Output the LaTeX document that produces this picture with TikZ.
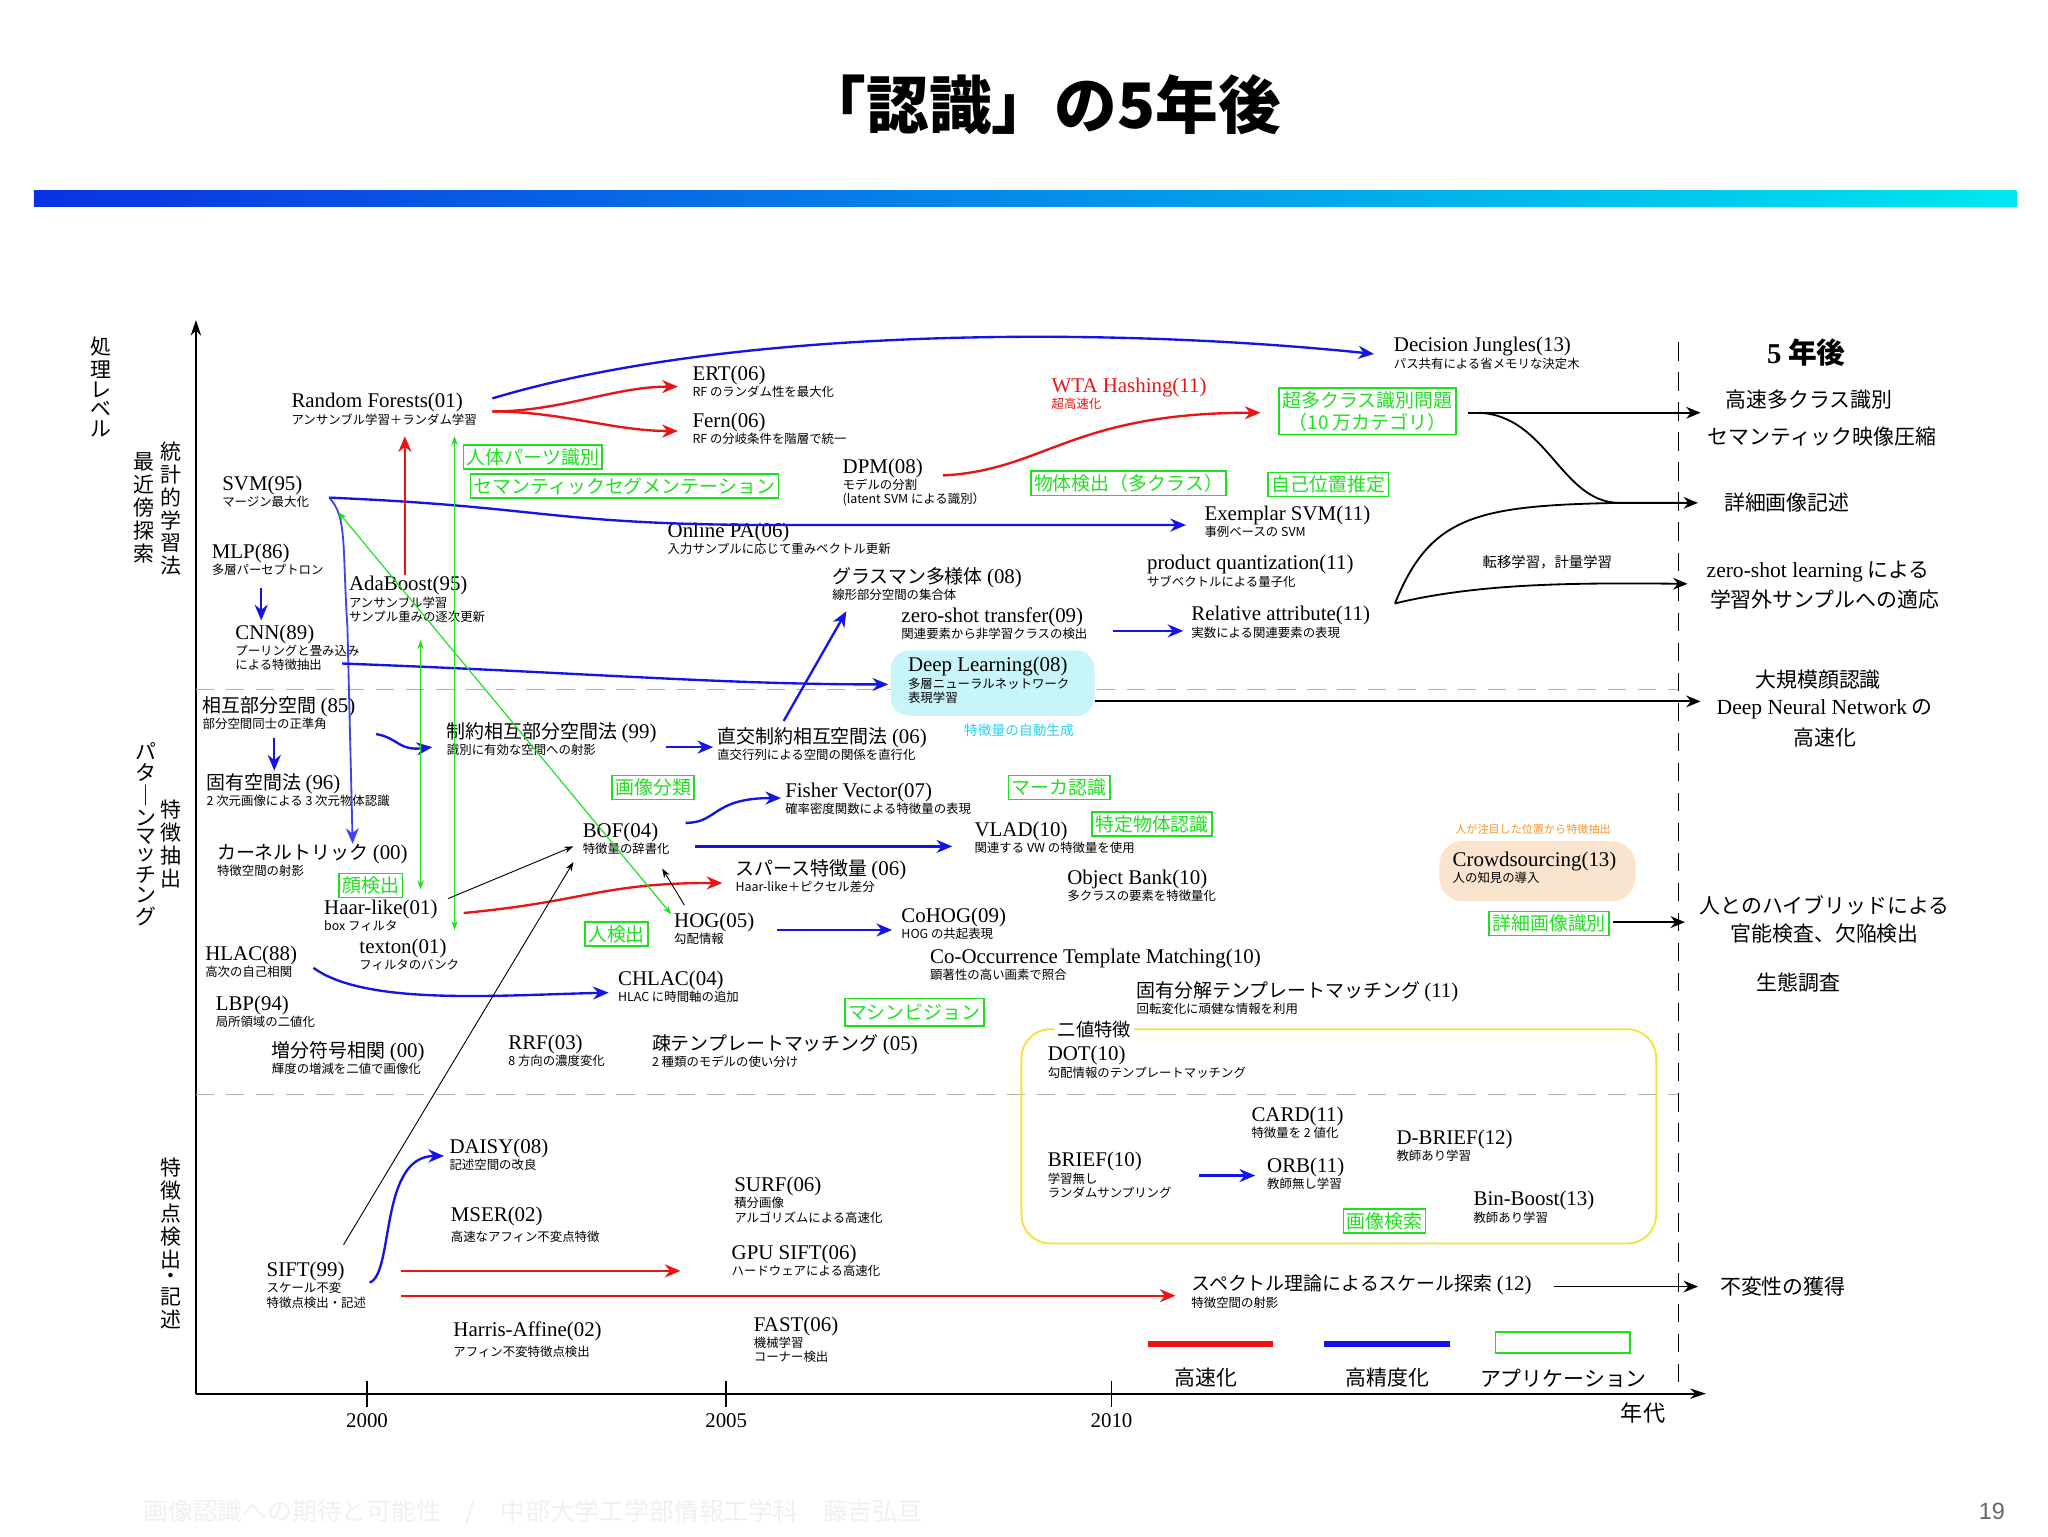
\documentclass[tikz,border=0pt]{standalone}
\usepackage{fontspec}
\setmainfont{Liberation Serif}
\newfontfamily\jp{Noto Sans CJK JP}
\newfontfamily\lsans{Liberation Sans}
\usetikzlibrary{arrows.meta}
\definecolor{bl}{RGB}{20,20,230}
\definecolor{rd}{RGB}{235,20,20}
\definecolor{gr}{RGB}{30,225,30}
\definecolor{dg}{RGB}{175,175,175}
\definecolor{cy}{RGB}{200,245,250}
\definecolor{pe}{RGB}{250,228,205}
\definecolor{ye}{RGB}{245,225,60}
\newcommand\mf{\rmfamily\fontsize{16}{18}\selectfont}
\newcommand\mj{\jp\fontsize{14.5}{18}\selectfont}
\tikzset{
 itm/.style={anchor=north west,inner sep=0pt,align=left,font=\jp\fontsize{9.5}{11}\selectfont},
 gbox/.style={draw=gr,line width=1.2pt,text=gr,inner sep=2.5pt,font=\jp\fontsize{14.5}{16.5}\selectfont,align=center},
 rt/.style={font=\jp\fontsize{16}{18}\selectfont},
 vt/.style={anchor=north,inner sep=0pt,font=\jp\fontsize{16}{17}\selectfont},
 ba/.style={bl,line width=1.8pt,-{Stealth[length=12pt,width=10pt]}},
 ra/.style={rd,line width=1.8pt,-{Stealth[length=12pt,width=10pt]}},
 ka/.style={black,line width=1.4pt,-{Stealth[length=11pt,width=9pt]}},
 ga/.style={gr,line width=0.9pt,{Stealth[length=7pt,width=5pt]}-{Stealth[length=7pt,width=5pt]}},
 ta/.style={black,line width=0.7pt,-{Stealth[length=7pt,width=5pt]}},
}
\begin{document}
\begin{tikzpicture}[x=1pt,y=-1pt]
\useasboundingbox (0,0) rectangle (1568,1176);
\fill[white] (0,0) rectangle (1568,1176);
% title
\node[font=\jp\bfseries\fontsize{48}{52}\selectfont] (title) at (798,80) {「認識」の5年後};
\shade[left color={rgb,255:red,10;green,50;blue,225}, right color={rgb,255:red,0;green,230;blue,240}] (26,146) rectangle (1544,158);
% axes
\draw[line width=1.6pt,-{Stealth[length=12pt,width=8pt]}] (150,1067) -- (150,245);
\draw[line width=1.6pt,-{Stealth[length=12pt,width=8pt]}] (150,1067) -- (1306,1067);
\foreach \x/\l in {281/2000,556/2005,851/2010}{
 \draw[line width=1.2pt] (\x,1057) -- (\x,1077);
 \node[font=\fontsize{16}{18}\selectfont] at (\x,1088) {\l};}
\node[font=\jp\fontsize{17}{19}\selectfont] (nendai) at (1258,1082) {年代};
\draw[line width=1.2pt,dash pattern=on 14pt off 9pt] (1285,262) -- (1285,1067);
\draw[dg,line width=1.3pt,dash pattern=on 14pt off 9pt] (150,528) -- (1285,528);
\draw[dg,line width=1.3pt,dash pattern=on 14pt off 9pt] (150,838) -- (1285,838);
% vertical labels
\node[vt] (v1) at (77,258) {\shortstack{処\\理\\レ\\ベ\\ル}};
\node[vt] (v2) at (131,338) {\shortstack{統\\計\\的\\学\\習\\法}};
\node[vt] (v3) at (110,346) {\shortstack{最\\近\\傍\\探\\索}};
\node[vt] (v4) at (112,568) {\shortstack{パ\\タ\\｜\\ン\\マ\\ッ\\チ\\ン\\グ}};
\node[vt] (v5) at (131,612) {\shortstack{特\\徴\\抽\\出}};
\node[vt] (v6) at (131,886) {\shortstack{特\\徴\\点\\検\\出\\・\\記\\述}};
% yellow box
\draw[ye,line width=1.4pt,rounded corners=22pt] (782,788) rectangle (1268,952);
\node[fill=white,inner sep=2pt,font=\jp\fontsize{14}{16}\selectfont] (niti) at (838,788) {二値特徴};
% filled boxes
\node[fill=cy,rounded corners=14pt,minimum width=156pt,minimum height=50pt] (dlbox) at (760,523) {};
\node[fill=pe,rounded corners=18pt,minimum width=150pt,minimum height=46pt] (crbox) at (1177,667) {};
% items
\node[itm] (rf) at (223,301) {{\mf Random Forests(01)}\\アンサンブル学習＋ランダム学習};
\node[itm] (ert) at (530,280) {{\mf ERT(06)}\\RF のランダム性を最大化};
\node[itm] (fern) at (530,316) {{\mf Fern(06)}\\RF の分岐条件を階層で統一};
\node[itm] (dj) at (1067,258) {{\mf Decision Jungles(13)}\\パス共有による省メモリな決定木};
\node[itm,text=rd] (wta) at (805,289) {{\mf WTA Hashing(11)}\\超高速化};
\node[itm] (svm) at (170,364) {{\mf SVM(95)}\\マージン最大化};
\node[itm] (dpm) at (645,351) {{\mf DPM(08)}\\モデルの分割\\(latent SVM による識別）};
\node[itm] (esvm) at (922,387) {{\mf Exemplar SVM(11)}\\事例ベースの SVM};
\node[itm] (opa) at (511,400) {{\mf Online PA(06)}\\入力サンプルに応じて重みベクトル更新};
\node[itm] (mlp) at (162,416) {{\mf MLP(86)}\\多層パーセプトロン};
\node[itm] (pq) at (878,425) {{\mf product quantization(11)}\\サブベクトルによる量子化};
\node[anchor=north west,inner sep=0pt,font=\jp\fontsize{11}{13}\selectfont] (tenni) at (1135,425) {転移学習，計量学習};
\node[itm] (ada) at (267,441) {{\mf AdaBoost(95)}\\アンサンブル学習\\サンプル重みの逐次更新};
\node[itm] (gras) at (637,434) {{\mj グラスマン多様体 \mf(08)}\\線形部分空間の集合体};
\node[itm] (zst) at (690,465) {{\mf zero-shot transfer(09)}\\関連要素から非学習クラスの検出};
\node[itm] (ra) at (912,464) {{\mf Relative attribute(11)}\\実数による関連要素の表現};
\node[itm] (cnn) at (180,478) {{\mf CNN(89)}\\プーリングと畳み込み\\による特徴抽出};
\node[itm] (dl) at (695,503) {{\mf Deep Learning(08)}\\多層ニューラルネットワーク\\表現学習};
\node[anchor=north west,inner sep=0pt,text={rgb,255:red,40;green,210;blue,240},font=\jp\fontsize{10.5}{12}\selectfont] (jido) at (738,554) {特徴量の自動生成};
\node[itm] (sogo) at (155,533) {{\mj 相互部分空間 \mf(85)}\\部分空間同士の正準角};
\node[itm] (seiyaku) at (342,553) {{\mj 制約相互部分空間法 \mf(99)}\\識別に有効な空間への射影};
\node[itm] (chokko) at (549,557) {{\mj 直交制約相互空間法 \mf(06)}\\直交行列による空間の関係を直行化};
\node[itm] (koyu) at (158,592) {{\mj 固有空間法 \mf(96)}\\2 次元画像による 3 次元物体認識};
\node[itm] (fv) at (601,599) {{\mf Fisher Vector(07)}\\確率密度関数による特徴量の表現};
\node[itm] (vlad) at (746,629) {{\mf VLAD(10)}\\関連する VW の特徴量を使用};
\node[itm] (bof) at (446,630) {{\mf BOF(04)}\\特徴量の辞書化};
\node[itm] (kt) at (166,646) {{\mj カーネルトリック \mf(00)}\\特徴空間の射影};
\node[itm] (sp) at (563,658) {{\mj スパース特徴量 \mf(06)}\\Haar-like＋ピクセル差分};
\node[itm] (ob) at (817,666) {{\mf Object Bank(10)}\\多クラスの要素を特徴量化};
\node[anchor=north west,inner sep=0pt,text={rgb,255:red,245;green,150;blue,40},font=\jp\fontsize{8.5}{10}\selectfont] (chumoku) at (1114,631) {人が注目した位置から特徴抽出};
\node[itm] (crowd) at (1112,652) {{\mf Crowdsourcing(13)}\\人の知見の導入};
\node[itm] (haar) at (248,689) {{\mf Haar-like(01)}\\box フィルタ};
\node[itm] (hog) at (516,699) {{\mf HOG(05)}\\勾配情報};
\node[itm] (cohog) at (690,695) {{\mf CoHOG(09)}\\HOG の共起表現};
\node[itm] (texton) at (275,719) {{\mf texton(01)}\\フィルタのバンク};
\node[itm] (hlac) at (157,724) {{\mf HLAC(88)}\\高次の自己相関};
\node[itm] (cotm) at (712,726) {{\mf Co-Occurrence Template Matching(10)}\\顕著性の高い画素で照合};
\node[itm] (chlac) at (473,743) {{\mf CHLAC(04)}\\HLAC に時間軸の追加};
\node[itm] (kotm) at (870,751) {{\mj 固有分解テンプレートマッチング \mf(11)}\\回転変化に頑健な情報を利用};
\node[itm] (lbp) at (165,762) {{\mf LBP(94)}\\局所領域の二値化};
\node[itm] (zobun) at (208,797) {{\mj 増分符号相関 \mf(00)}\\輝度の増減を二値で画像化};
\node[itm] (rrf) at (389,792) {{\mf RRF(03)}\\8 方向の濃度変化};
\node[itm] (sotm) at (499,792) {{\mj 疎テンプレートマッチング \mf(05)}\\2 種類のモデルの使い分け};
\node[itm] (dot) at (802,801) {{\mf DOT(10)}\\勾配情報のテンプレートマッチング};
\node[itm] (card) at (958,847) {{\mf CARD(11)}\\特徴量を 2 値化};
\node[itm] (dbrief) at (1069,865) {{\mf D-BRIEF(12)}\\教師あり学習};
\node[itm] (daisy) at (344,872) {{\mf DAISY(08)}\\記述空間の改良};
\node[itm] (brief) at (802,882) {{\mf BRIEF(10)}\\学習無し\\ランダムサンプリング};
\node[itm] (orb) at (970,886) {{\mf ORB(11)}\\教師無し学習};
\node[itm] (surf) at (562,901) {{\mf SURF(06)}\\積分画像\\アルゴリズムによる高速化};
\node[itm] (binb) at (1128,912) {{\mf Bin-Boost(13)}\\教師あり学習};
\node[itm] (mser) at (345,924) {{\mf MSER(02)}\\[3pt]高速なアフィン不変点特徴};
\node[itm] (gsift) at (560,953) {{\mf GPU SIFT(06)}\\ハードウェアによる高速化};
\node[itm] (sift) at (204,966) {{\mf SIFT(99)}\\スケール不変\\特徴点検出・記述};
\node[itm] (spec) at (912,976) {{\mj スペクトル理論によるスケール探索 \mf(12)}\\特徴空間の射影};
\node[itm] (harris) at (347,1012) {{\mf Harris-Affine(02)}\\[3pt]アフィン不変特徴点検出};
\node[itm] (fast) at (577,1008) {{\mf FAST(06)}\\機械学習\\コーナー検出};
% green boxes
\node[gbox] (g1) at (408,350) {人体パーツ識別};
\node[gbox] (g2) at (478,372) {セマンティックセグメンテーション};
\node[gbox,font=\jp\fontsize{14.5}{17}\selectfont] (g3) at (1047,315) {超多クラス識別問題\\（10 万カテゴリ）};
\node[gbox] (g4) at (864,370) {物体検出（多クラス）};
\node[gbox] (g5) at (1017,371) {自己位置推定};
\node[gbox] (g6) at (500,603) {画像分類};
\node[gbox] (g7) at (811,603) {マーカ認識};
\node[gbox] (g8) at (882,631) {特定物体認識};
\node[gbox] (g9) at (284,678) {顔検出};
\node[gbox] (g10) at (472,715) {人検出};
\node[gbox] (g11) at (1186,707) {詳細画像識別};
\node[gbox,inner ysep=4pt] (g12) at (700,775) {マシンビジョン};
\node[gbox] (g13) at (1060,935) {画像検索};
% right side
\node[font=\jp\bfseries\fontsize{22}{24}\selectfont] (five) at (1383,270) {{\rmfamily\bfseries 5} 年後};
\node[rt] (r1) at (1385,306) {高速多クラス識別};
\node[rt] (r2) at (1395,334) {セマンティック映像圧縮};
\node[rt] (r3) at (1368,385) {詳細画像記述};
\node[rt] (r4) at (1392,438) {{\rmfamily\fontsize{16.5}{18}\selectfont zero-shot learning} による};
\node[rt] (r5) at (1397,459) {学習外サンプルへの適応};
\node[rt] (r6) at (1392,520) {大規模顔認識};
\node[rt] (r7) at (1397,543) {{\rmfamily\fontsize{16.5}{18}\selectfont Deep Neural Network} の};
\node[rt] (r8) at (1397,565) {高速化};
\node[rt] (r9) at (1397,693) {人とのハイブリッドによる};
\node[rt] (r10) at (1397,715) {官能検査、欠陥検出};
\node[rt] (r11) at (1377,752) {生態調査};
\node[rt] (r12) at (1365,985) {不変性の獲得};
% black right arrows
\draw[ka] (1124,316) -- (1302,316);
\draw[black,line width=1.4pt] (1132,316) .. controls (1185,318) and (1195,385) .. (1240,385);
\draw[ka] (1068,462) .. controls (1095,395) and (1130,387) .. (1240,385) -- (1300,385);
\draw[ka] (1068,462) .. controls (1130,447) and (1200,446) .. (1292,447);
\draw[ka] (838,537) -- (1302,537);
\draw[ka] (1235,706) -- (1290,706);
\draw[ka] (1190,985) -- (1300,985);
% blue arrows
\draw[ba] (377,305) .. controls (560,250) and (850,250) .. (1052,271);
\draw[ba] (252,381) .. controls (420,388) and (420,402) .. (600,402) -- (908,402);
\draw[bl!80!white,line width=1.4pt,-{Stealth[length=12pt,width=10pt]}] (252,381) .. controls (266,395) and (262,420) .. (266,480) -- (270,646);
\draw[ba] (200,450) -- (200,475);
\draw[ba] (262,508) .. controls (450,515) and (550,524) .. (680,524);
\draw[ba] (288,562) .. controls (305,565) and (305,575) .. (331,572);
\draw[ba] (510,572) -- (546,572);
\draw[ba] (210,565) -- (210,590);
\draw[ba] (600,552) -- (648,468);
\draw[ba] (852,483) -- (906,483);
\draw[ba] (525,630) .. controls (550,630) and (545,611) .. (598,611);
\draw[ba] (532,648) -- (729,648);
\draw[ba] (595,712) -- (683,712);
\draw[ba] (240,741) .. controls (280,770) and (380,762) .. (466,760);
\draw[ba] (283,982) .. controls (302,975) and (290,885) .. (340,885);
\draw[ba] (918,900) -- (961,900);
% red arrows
\draw[ra] (377,315) .. controls (430,315) and (470,296) .. (519,296);
\draw[ra] (377,315) .. controls (430,315) and (470,330) .. (519,330);
\draw[ra] (310,440) -- (310,334);
\draw[ra] (722,364) .. controls (800,360) and (820,316) .. (965,316);
\draw[ra] (355,699) .. controls (450,690) and (460,676) .. (553,676);
\draw[ra] (307,973) -- (521,973);
\draw[ra] (307,992) -- (900,992);
% green thin
\draw[ga] (322,490) -- (322,681);
\draw[ga] (348,334) -- (348,712);
\draw[ga] (259,392) -- (514,700);
% black thin
\draw[ta] (343,688) -- (439,648);
\draw[ta] (263,953) -- (439,660);
\draw[ta] (524,693) -- (507,665);
% legend
\draw[rd,line width=4pt] (879,1029) -- (975,1029);
\draw[bl,line width=4pt] (1014,1029) -- (1110,1029);
\draw[gr,line width=1.3pt] (1145,1020) rectangle (1248,1036);
\node[rt] (l1) at (923,1055) {高速化};
\node[rt] (l2) at (1062,1055) {高精度化};
\node[rt] (l3) at (1197,1055) {アプリケーション};
% footer
\node[font=\lsans\fontsize{18}{20}\selectfont,text=black!60] (pg) at (1525,1157) {19};
\node[font=\jp\fontsize{19}{21}\selectfont,text=black!6] (foot) at (408,1158) {画像認識への期待と可能性　/　中部大学工学部情報工学科　藤吉弘亘};
\end{tikzpicture}
\end{document}
